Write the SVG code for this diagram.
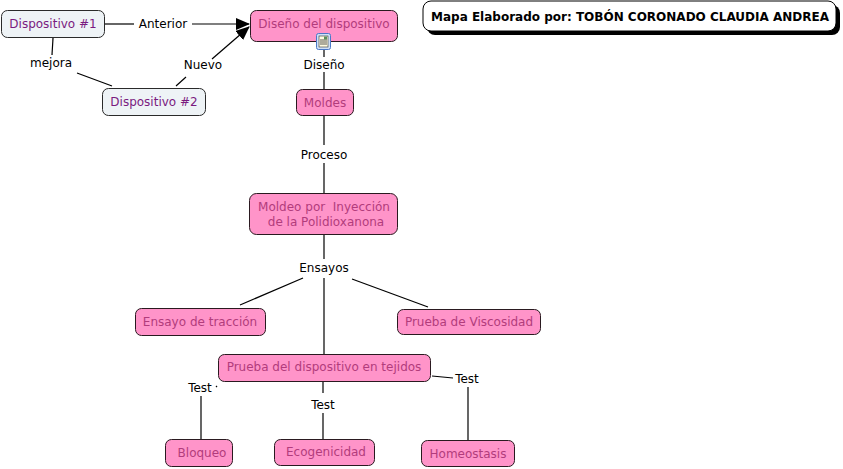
<svg xmlns="http://www.w3.org/2000/svg" width="843" height="469" viewBox="0 0 843 469">
<style>
.pk{fill:#ff94c9;stroke:#2a1a20;stroke-width:1}
.bl{fill:#eef3f6;stroke:#2a2a2a;stroke-width:1}
.tp{font-family:"DejaVu Sans",Verdana,sans-serif;font-size:12px;fill:#b23c7c;text-anchor:middle}
.tb{font-family:"DejaVu Sans",Verdana,sans-serif;font-size:12px;fill:#7a1a80;text-anchor:middle}
.lb{font-family:"DejaVu Sans",Verdana,sans-serif;font-size:12px;fill:#000;text-anchor:middle}
.ln{stroke:#000;stroke-width:1.2;fill:none}
</style>
<defs>
<marker id="ah" markerWidth="14" markerHeight="12" refX="13" refY="6" orient="auto" markerUnits="userSpaceOnUse">
<path d="M0,0 L14,6 L0,12 Z" fill="#000"/>
</marker>
</defs>
<rect width="843" height="469" fill="#fff"/>
<g id="connectors">
<line class="ln" x1="105" y1="24" x2="134" y2="24"/>
<line class="ln" x1="192" y1="24" x2="249" y2="24" marker-end="url(#ah)"/>
<line class="ln" x1="176" y1="86" x2="186" y2="77"/>
<line class="ln" x1="212" y1="59" x2="249" y2="27" marker-end="url(#ah)"/>
<line class="ln" x1="53" y1="38" x2="52" y2="55"/>
<line class="ln" x1="77" y1="73" x2="112" y2="86"/>
<line class="ln" x1="324" y1="50" x2="324" y2="57"/>
<line class="ln" x1="324" y1="72" x2="324" y2="89"/>
<line class="ln" x1="324" y1="116" x2="324" y2="145"/>
<line class="ln" x1="324" y1="163" x2="324" y2="193"/>
<line class="ln" x1="324" y1="235" x2="324" y2="259"/>
<line class="ln" x1="324" y1="278" x2="324" y2="354"/>
<line class="ln" x1="303" y1="278" x2="240" y2="305"/>
<line class="ln" x1="352" y1="279" x2="428" y2="307"/>
<line class="ln" x1="201" y1="396" x2="201" y2="439"/>
<line class="ln" x1="216" y1="386" x2="217" y2="387"/>
<line class="ln" x1="323" y1="382" x2="323" y2="393"/>
<line class="ln" x1="323" y1="413" x2="323" y2="439"/>
<line class="ln" x1="432" y1="376" x2="453" y2="378"/>
<line class="ln" x1="468" y1="387" x2="468" y2="440"/>
</g>
<g id="labels">
<text class="lb" x="163" y="28">Anterior</text>
<text class="lb" x="203" y="69">Nuevo</text>
<text class="lb" x="51" y="67">mejora</text>
<text class="lb" x="324" y="69">Diseño</text>
<text class="lb" x="324" y="159">Proceso</text>
<text class="lb" x="324" y="272">Ensayos</text>
<text class="lb" x="200" y="392">Test</text>
<text class="lb" x="323" y="409">Test</text>
<text class="lb" x="467" y="383">Test</text>
</g>
<g id="title">
<rect x="427" y="5" width="413" height="30" rx="8" fill="#000"/>
<rect x="423" y="1" width="413" height="30" rx="8" fill="#fff" stroke="#000" stroke-width="1"/>
<text x="630" y="21" font-family="'DejaVu Sans',Verdana,sans-serif" font-size="12" font-weight="bold" text-anchor="middle" fill="#000">Mapa Elaborado por: TOBÓN CORONADO CLAUDIA ANDREA</text>
</g>
<g id="n-disp1"><rect class="bl" x="1.5" y="10.5" width="103" height="27" rx="6"/><text class="tb" x="53" y="28">Dispositivo #1</text></g>
<g id="n-disp2"><rect class="bl" x="102.5" y="88.5" width="103" height="27" rx="6"/><text class="tb" x="154" y="106">Dispositivo #2</text></g>
<g id="n-diseno"><rect class="pk" x="250.5" y="10.5" width="147" height="31" rx="6"/><text class="tp" x="324" y="28">Diseño del dispositivo</text>
<rect x="316.5" y="33.5" width="14" height="16" rx="2" fill="#cfe0f7" stroke="#4a78c8"/>
<rect x="319" y="36" width="9" height="11" fill="#fffbe0" stroke="#333" stroke-width="0.6"/>
<line x1="320" y1="40" x2="327" y2="40" stroke="#333" stroke-width="0.8"/><line x1="320" y1="42" x2="327" y2="42" stroke="#333" stroke-width="0.8"/><line x1="320" y1="44" x2="327" y2="44" stroke="#333" stroke-width="0.8"/>
<rect x="324" y="36.5" width="3" height="3" fill="#5a8f5a"/>
</g>
<g id="n-moldes"><rect class="pk" x="296.5" y="89.5" width="57" height="26" rx="6"/><text class="tp" x="325" y="107">Moldes</text></g>
<g id="n-moldeo"><rect class="pk" x="249.5" y="193.5" width="148" height="41" rx="7"/><text class="tp" x="324" y="211">Moldeo por&#160; Inyección</text><text class="tp" x="326" y="226">de la Polidioxanona</text></g>
<g id="n-traccion"><rect class="pk" x="135.5" y="308.5" width="130" height="27" rx="6"/><text class="tp" x="200" y="326">Ensayo de tracción</text></g>
<g id="n-visc"><rect class="pk" x="397.5" y="309.5" width="143" height="25" rx="6"/><text class="tp" x="469" y="326">Prueba de Viscosidad</text></g>
<g id="n-prueba"><rect class="pk" x="218.5" y="354.5" width="212" height="27" rx="6"/><text class="tp" x="324" y="371">Prueba del dispositivo en tejidos</text></g>
<g id="n-bloqueo"><rect class="pk" x="165.5" y="439.5" width="67" height="27" rx="6"/><text class="tp" x="202" y="457">Bloqueo</text></g>
<g id="n-eco"><rect class="pk" x="274.5" y="439.5" width="100" height="26" rx="6"/><text class="tp" x="326" y="456">Ecogenicidad</text></g>
<g id="n-homeo"><rect class="pk" x="421.5" y="440.5" width="93" height="26" rx="6"/><text class="tp" x="468" y="458">Homeostasis</text></g>
</svg>
